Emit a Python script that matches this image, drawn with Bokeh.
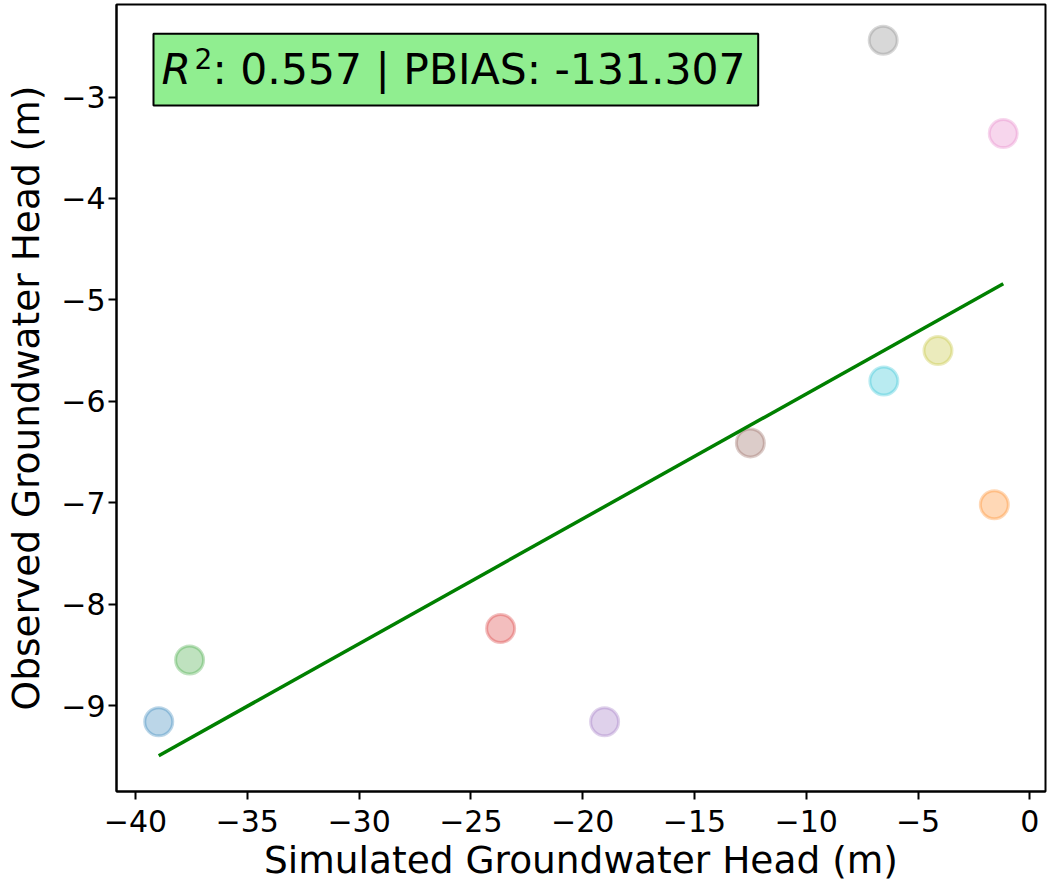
import numpy as np
from bokeh.plotting import figure, ColumnDataSource
from bokeh.models import Range1d, FixedTicker, Label, BoxAnnotation
from bokeh.embed import file_html
from bokeh.resources import INLINE

# ---------------- data ----------------
simulated = [-38.96, -1.59, -37.58, -23.67, -19.02, -12.50, -1.19, -6.56, -4.11, -6.53]
observed = [-9.16, -7.02, -8.55, -8.24, -9.16, -6.41, -3.36, -2.44, -5.50, -5.80]
point_colors = ["#1f77b4", "#ff7f0e", "#2ca02c", "#d62728", "#9467bd",
                "#8c564b", "#e377c2", "#7f7f7f", "#bcbd22", "#17becf"]
x_ticks = [-40, -35, -30, -25, -20, -15, -10, -5, 0]
x_tick_labels = ["\u221240", "\u221235", "\u221230", "\u221225", "\u221220",
                 "\u221215", "\u221210", "\u22125", "0"]
y_ticks = [-9, -8, -7, -6, -5, -4, -3]
y_tick_labels = ["\u22129", "\u22128", "\u22127", "\u22126", "\u22125", "\u22124", "\u22123"]
r2_value = 0.557
pbias_value = -131.307
x_label = "Simulated Groundwater Head (m)"
y_label = "Observed Groundwater Head (m)"

FONT = "DejaVu Sans"

# regression line
slope, intercept = np.polyfit(simulated, observed, 1)
fit_x = np.array([min(simulated), max(simulated)])
fit_y = slope * fit_x + intercept

# matplotlib-like 5% margins
allx = list(simulated) + list(fit_x)
ally = list(observed) + list(fit_y)
dx = max(allx) - min(allx)
dy = max(ally) - min(ally)
XMIN, XMAX = min(allx) - 0.05 * dx, max(allx) + 0.05 * dx
YMIN, YMAX = min(ally) - 0.05 * dy, max(ally) + 0.05 * dy

# frame geometry (pixels)
W, H = 1050, 887
FL, FR, FT, FB = 116, 1045, 4, 791


def xd(px):
    return XMIN + (px - FL) / (FR - FL) * (XMAX - XMIN)


def yd(py):
    return YMAX - (py - FT) / (FB - FT) * (YMAX - YMIN)


p = figure(width=W, height=H, output_backend="svg", toolbar_location=None,
           x_range=Range1d(XMIN, XMAX), y_range=Range1d(YMIN, YMAX),
           min_border_left=FL, min_border_right=W - FR,
           min_border_top=FT, min_border_bottom=H - FB)
p.background_fill_color = "white"
p.border_fill_color = "white"
p.outline_line_color = "black"
p.outline_line_width = 2
p.outline_line_alpha = 1.0
p.xgrid.visible = False
p.ygrid.visible = False

for ax, ticks, labs, standoff, lab, lab_standoff in (
        (p.xaxis, x_ticks, x_tick_labels, 10, x_label, 3),
        (p.yaxis, y_ticks, y_tick_labels, 3, y_label, 10)):
    ax.ticker = FixedTicker(ticks=ticks)
    ax.major_label_overrides = {t: l for t, l in zip(ticks, labs)}
    ax.major_label_text_font = FONT
    ax.major_label_text_font_size = "30px"
    ax.major_label_text_color = "black"
    ax.major_label_standoff = standoff
    ax.major_tick_out = 8
    ax.major_tick_in = 0
    ax.major_tick_line_width = 2
    ax.major_tick_line_color = "black"
    ax.minor_tick_line_color = None
    ax.axis_line_width = 2
    ax.axis_line_color = "black"
    ax.axis_label = lab
    ax.axis_label_text_font = FONT
    ax.axis_label_text_font_size = "37.5px"
    ax.axis_label_text_font_style = "normal"
    ax.axis_label_text_color = "black"
    ax.axis_label_standoff = lab_standoff

src = ColumnDataSource(dict(sim=simulated, obs=observed, color=point_colors))
p.scatter(x="sim", y="obs", source=src, size=28, fill_color="color",
          line_color="color", fill_alpha=0.3, line_alpha=0.3, line_width=3)
p.line(fit_x, fit_y, line_color="#008000", line_width=3.5)

# stats box
box = BoxAnnotation(left=xd(153), right=xd(757.7), top=yd(33.3), bottom=yd(105),
                    fill_color="#90ee90", fill_alpha=1.0,
                    line_color="black", line_width=2, line_alpha=1.0)
p.add_layout(box)
BIG = "42.5px"
p.add_layout(Label(x=xd(161), y=yd(69), text="R", text_font=FONT,
                   text_font_style="italic", text_font_size=BIG,
                   text_baseline="alphabetic", text_align="left", text_color="black"))
p.add_layout(Label(x=xd(194), y=yd(58), text="2", text_font=FONT,
                   text_font_size="28px", text_baseline="alphabetic",
                   text_align="left", text_color="black"))
p.add_layout(Label(x=xd(212), y=yd(69),
                   text=f": {r2_value:.3f} | PBIAS: {pbias_value:.3f}",
                   text_font=FONT, text_font_size=BIG,
                   text_baseline="alphabetic", text_align="left", text_color="black"))

open("out.html", "w").write(file_html(p, INLINE))
